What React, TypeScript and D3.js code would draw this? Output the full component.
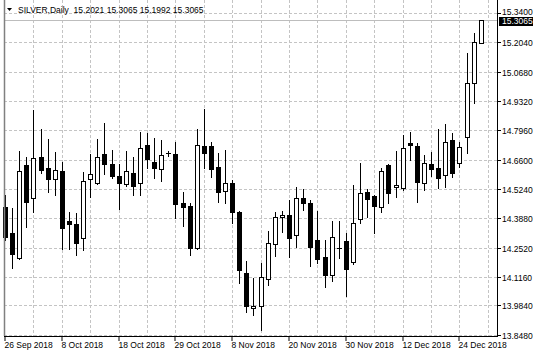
import React from "react";
import * as d3 from "d3";

const dates = [
  "2018-09-26","2018-09-27","2018-09-28","2018-10-01","2018-10-02","2018-10-03","2018-10-04","2018-10-05",
  "2018-10-08","2018-10-09","2018-10-10","2018-10-11","2018-10-12","2018-10-15","2018-10-16","2018-10-17",
  "2018-10-18","2018-10-19","2018-10-22","2018-10-23","2018-10-24","2018-10-25","2018-10-26","2018-10-28",
  "2018-10-29","2018-10-30","2018-10-31","2018-11-01","2018-11-02","2018-11-05","2018-11-06","2018-11-07",
  "2018-11-08","2018-11-09","2018-11-12","2018-11-13","2018-11-14","2018-11-15","2018-11-16","2018-11-19",
  "2018-11-20","2018-11-21","2018-11-22","2018-11-23","2018-11-26","2018-11-27","2018-11-28","2018-11-29",
  "2018-11-30","2018-12-03","2018-12-04","2018-12-05","2018-12-06","2018-12-07","2018-12-10","2018-12-11",
  "2018-12-12","2018-12-13","2018-12-14","2018-12-17","2018-12-18","2018-12-19","2018-12-20","2018-12-21",
  "2018-12-24","2018-12-26","2018-12-27","2018-12-28",
];

const opens = [
  14.440,14.320,14.204,14.635,14.482,14.672,14.621,14.570,14.607,14.375,14.362,14.297,14.570,14.552,14.686,14.640,
  14.584,14.547,14.598,14.552,14.728,14.649,14.617,14.691,14.686,14.459,14.445,14.250,14.723,14.723,14.626,14.515,
  14.552,14.417,14.134,13.972,13.981,14.106,14.269,14.394,14.403,14.311,14.482,14.459,14.287,14.208,14.125,14.250,
  14.283,14.185,14.385,14.510,14.491,14.440,14.635,14.533,14.528,14.737,14.723,14.552,14.640,14.621,14.589,14.751,
  14.644,14.765,15.016,15.2021,
];
const highs = [
  14.496,14.436,14.700,14.672,14.890,14.802,14.756,14.695,14.649,14.417,14.413,14.603,14.686,14.756,14.830,14.705,
  14.640,14.700,14.672,14.788,14.784,14.760,14.751,14.700,14.742,14.510,14.459,14.802,14.895,14.742,14.691,14.705,
  14.566,14.420,14.190,14.111,14.181,14.329,14.417,14.422,14.473,14.533,14.524,14.473,14.422,14.287,14.375,14.375,
  14.320,14.542,14.644,14.524,14.496,14.621,14.640,14.700,14.774,14.788,14.737,14.682,14.695,14.802,14.825,14.784,
  14.742,15.155,15.247,15.3065,
];
const lows = [
  14.287,14.157,14.199,14.348,14.417,14.598,14.510,14.496,14.246,14.246,14.218,14.241,14.487,14.545,14.593,14.575,
  14.431,14.538,14.496,14.496,14.621,14.575,14.561,14.677,14.389,14.352,14.218,14.245,14.621,14.580,14.464,14.459,
  14.366,14.088,13.953,13.939,13.870,14.079,14.213,14.324,14.208,14.255,14.426,14.167,14.181,14.069,14.097,14.204,
  14.028,14.176,14.366,14.394,14.320,14.417,14.459,14.487,14.519,14.658,14.464,14.519,14.584,14.528,14.533,14.580,
  14.626,14.691,14.923,15.1992,
];
const closes = [
  14.301,14.222,14.607,14.464,14.668,14.612,14.570,14.612,14.343,14.362,14.273,14.561,14.593,14.672,14.640,14.584,
  14.552,14.607,14.538,14.714,14.663,14.621,14.682,14.692,14.454,14.440,14.250,14.728,14.691,14.617,14.510,14.552,
  14.417,14.148,13.981,13.981,14.116,14.273,14.394,14.403,14.297,14.482,14.459,14.255,14.199,14.125,14.301,14.252,
  14.153,14.366,14.505,14.478,14.445,14.607,14.505,14.542,14.714,14.728,14.556,14.644,14.617,14.575,14.742,14.598,
  14.719,15.016,15.206,15.3065,
];

const yTickValues = [15.34, 15.204, 15.068, 14.932, 14.796, 14.66, 14.524, 14.388, 14.252, 14.116, 13.984, 13.848];
const yTickLabels = ["15.3400","15.2040","15.0680","14.9320","14.7960","14.6600","14.5240","14.3880","14.2520","14.1160","13.9840","13.8480"];

const title = "SILVER,Daily  15.2021 15.3065 15.1992 15.3065";
const lastPrice = 15.3065;
const lastPriceLabel = "15.3065";

const W = 536, H = 358;
const plotLeft = 4, plotRight = 497, plotBottom = 336;
const FONT = "'Liberation Sans', Arial, sans-serif";

export default function App() {
  const n = dates.length;
  const x = d3.scaleLinear().domain([0, n - 1]).range([5, 5 + 7.1 * (n - 1)]);
  const y = d3.scaleLinear().domain([13.848, 15.34]).range([334.7, 13]);
  const parse = d3.timeParse("%Y-%m-%d");
  const fmt = d3.timeFormat("%-d %b %Y");

  const gridX = d3.range(4, n + 1, 4);
  const labelIdx = d3.range(0, n, 8);
  const py = (v: number) => Math.round(y(v));

  return (
    <svg width={W} height={H} style={{ position: "absolute", left: 0, top: 0, display: "block", background: "#fff" }}>
      <rect x={0} y={0} width={W} height={H} fill="#fff" />
      {/* grid */}
      {yTickValues.map((v, i) => (
        <line key={"gy" + i} x1={plotLeft} x2={plotRight} y1={py(v) + 0.5} y2={py(v) + 0.5}
          stroke="#c4c4c4" strokeDasharray="3,2" />
      ))}
      {gridX.map((i) => (
        <line key={"gx" + i} x1={Math.round(x(i)) + 0.5} x2={Math.round(x(i)) + 0.5} y1={0} y2={plotBottom}
          stroke="#c4c4c4" strokeDasharray="3,2" />
      ))}
      {/* last price line */}
      <line x1={plotLeft} x2={plotRight} y1={py(lastPrice) + 0.5} y2={py(lastPrice) + 0.5} stroke="#bdbdbd" />
      {/* candles */}
      {dates.map((d, i) => {
        const cx = Math.round(x(i));
        const o = opens[i], c = closes[i], h = highs[i], l = lows[i];
        const top = py(Math.max(o, c)), bot = py(Math.min(o, c));
        const bull = c >= o;
        return (
          <g key={"c" + i}>
            <line x1={cx + 0.5} x2={cx + 0.5} y1={py(h)} y2={py(l) + 1} stroke="#000" />
            {bot - top < 1 ? (
              <line x1={cx - 2} x2={cx + 3} y1={top + 0.5} y2={top + 0.5} stroke="#000" />
            ) : (
              <rect x={cx - 1.5} y={top + 0.5} width={4} height={bot - top}
                fill={bull ? "#fff" : "#000"} stroke="#000" />
            )}
          </g>
        );
      })}
      {/* frame */}
      <line x1={plotLeft + 0.5} x2={plotLeft + 0.5} y1={0} y2={plotBottom} stroke="#808080" strokeWidth={1.5} />
      <line x1={plotLeft} x2={plotRight + 0.5} y1={plotBottom + 0.5} y2={plotBottom + 0.5} stroke="#000" />
      <line x1={plotRight + 0.5} x2={plotRight + 0.5} y1={0} y2={plotBottom + 1} stroke="#000" />
      {/* y axis */}
      {yTickValues.map((v, i) => (
        <g key={"ty" + i}>
          <line x1={plotRight} x2={plotRight + 4} y1={py(v) + 0.5} y2={py(v) + 0.5} stroke="#000" />
          <text x={502} y={py(v) + (i === 0 ? 1.5 : 3.5)} fontSize={8.5} fontFamily={FONT} fill="#000">{yTickLabels[i]}</text>
        </g>
      ))}
      <rect x={499} y={py(lastPrice) - 3} width={34} height={9} fill="#000" />
      <text x={502} y={py(lastPrice) + 4} fontSize={8.5} fontFamily={FONT} fill="#fff">{lastPriceLabel}</text>
      {/* x axis */}
      {labelIdx.map((i) => {
        const tx = Math.round(x(i)) - 0.5;
        return (
          <g key={"tx" + i}>
            <line x1={tx + 0.5} x2={tx + 0.5} y1={plotBottom} y2={plotBottom + 5} stroke="#000" />
            <text x={tx} y={348} fontSize={8.5} fontFamily={FONT} fill="#000">{fmt(parse(dates[i]) as Date)}</text>
          </g>
        );
      })}
      {/* title */}
      <path d="M7,8 L12,8 L9.5,11 Z" fill="#000" />
      <text x={18} y={13} fontSize={8.5} fontFamily={FONT} fill="#000" xmlSpace="preserve">{title}</text>
    </svg>
  );
}
